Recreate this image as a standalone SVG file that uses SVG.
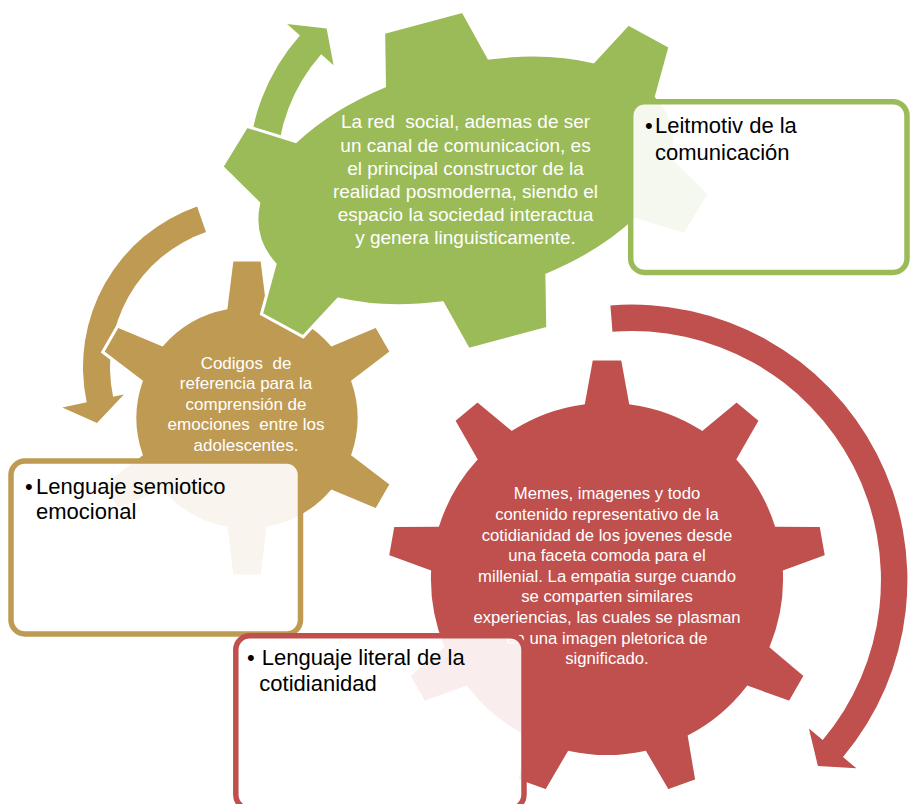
<svg xmlns="http://www.w3.org/2000/svg" width="910" height="804" viewBox="0 0 910 804">
  <style>
    .gear { stroke: #ffffff; stroke-width: 3; stroke-linejoin: miter; }
    .g-green { fill: #9BBB59; }
    .g-tan { fill: #BF9A52; }
    .g-red { fill: #C0504D; }
    .gtext { font-family: "Liberation Sans", Arial, sans-serif; fill: #ffffff; text-anchor: middle; }
    .box { fill: #ffffff; fill-opacity: 0.9; stroke-width: 5.5; }
    .btext { font-family: "Liberation Sans", Arial, sans-serif; font-size: 22px; fill: #000000; }
  </style>

  <g id="connectors">
    <path id="arrow-green" class="g-green" d="M248.4,171.2 A205,205 0 0 1 299.9,35.4 L287.1,24.1 L326.6,28.4 L333.6,65.2 L321.2,54.3 A176.5,176.5 0 0 0 276.9,171.2 Z"/>
    <path id="arrow-tan" class="g-tan" d="M197.1,206.5 A170,170 0 0 0 86.7,402.3 L62.3,407.5 L97,423 L123.9,394.4 L113.1,396.7 A143,143 0 0 1 206,232 Z"/>
    <path id="arrow-red" class="g-red" d="M610.4,305.4 A275.5,275.5 0 0 1 843,757.1 L856.4,768.3 L817.9,766 L808.9,728.5 L822.7,740.1 A249,249 0 0 0 612.5,331.8 Z"/>
  </g>

  <g id="gear-red">
    <path class="gear g-red" d="M583.5,403 L591.5,359 L622.5,359 L630.5,403 A177.6,177.6 0 0 1 702.1,429.1 L736.6,400.5 L760.3,420.4 L738.1,459.3 A177.6,177.6 0 0 1 776.2,525.3 L821,525.5 L826.4,556.1 L784.4,571.6 A177.6,177.6 0 0 1 771.2,646.7 L805.3,675.6 L789.8,702.4 L747.7,687.4 A177.6,177.6 0 0 1 689.3,736.4 L696.8,780.4 L667.7,791 L645.1,752.4 A177.6,177.6 0 0 1 568.9,752.4 L546.3,791 L517.2,780.4 L524.7,736.4 A177.6,177.6 0 0 1 466.3,687.4 L424.2,702.4 L408.7,675.6 L442.8,646.7 A177.6,177.6 0 0 1 429.6,571.6 L387.6,556.1 L393,525.5 L437.8,525.3 A177.6,177.6 0 0 1 475.9,459.3 L453.7,420.4 L477.5,400.5 L511.9,429.1 A177.6,177.6 0 0 1 583.5,403 Z"/>
    <text class="gtext" font-size="16.7"><tspan x="607" y="499.3">Memes, imagenes y todo</tspan><tspan x="607" y="519.9">contenido representativo de la</tspan><tspan x="607" y="540.5">cotidianidad de los jovenes desde</tspan><tspan x="607" y="561.1">una faceta comoda para el</tspan><tspan x="607" y="581.7">millenial. La empatia surge cuando</tspan><tspan x="607" y="602.3">se comparten similares</tspan><tspan x="607" y="622.9">experiencias, las cuales se plasman</tspan><tspan x="607" y="643.5">en una imagen pletorica de</tspan><tspan x="607" y="664.1">significado.</tspan></text>
  </g>

  <g id="gear-tan">
    <path class="gear g-tan" d="M226,308 L232,260 L262,260 L268,308 A112,112 0 0 1 331.8,344.8 L376.3,326 L391.3,352 L352.8,381.2 A112,112 0 0 1 352.8,454.8 L391.3,484 L376.3,510 L331.8,491.2 A112,112 0 0 1 268,528 L262,576 L232,576 L226,528 A112,112 0 0 1 162.2,491.2 L117.7,510 L102.7,484 L141.2,454.8 A112,112 0 0 1 141.2,381.2 L102.7,352 L117.7,326 L162.2,344.8 A112,112 0 0 1 226,308 Z"/>
    <text class="gtext" font-size="17"><tspan x="246" y="369">Codigos &#160;de</tspan><tspan x="246" y="389.4">referencia para la</tspan><tspan x="246" y="409.8">comprensión de</tspan><tspan x="246" y="430.2">emociones &#160;entre los</tspan><tspan x="246" y="450.6">adolescentes.</tspan></text>
  </g>

  <g id="gear-green">
    <path class="gear g-green" transform="translate(465.7,180.4) rotate(-15)" d="M-54,-112.2 L-41,-164 L41,-164 L54,-112.2 A213,116 0 0 1 154,-81.6 L197.5,-109 L231.9,-76.2 L205.8,-31.6 A213,116 0 0 1 205.8,31.6 L231.9,76.2 L197.5,109 L154,81.6 A213,116 0 0 1 54,112.2 L41,164 L-41,164 L-54,112.2 A213,116 0 0 1 -154,81.6 L-197.5,109 L-231.9,76.2 L-205.8,31.6 A213,116 0 0 1 -205.8,-31.6 L-231.9,-76.2 L-197.5,-109 L-154,-81.6 A213,116 0 0 1 -54,-112.2 Z"/>
    <text class="gtext" font-size="19"><tspan x="465.5" y="128.3">La red &#160;social, ademas de ser</tspan><tspan x="465.5" y="151.5">un canal de comunicacion, es</tspan><tspan x="465.5" y="174.7">el principal constructor de la</tspan><tspan x="465.5" y="197.9">realidad posmoderna, siendo el</tspan><tspan x="465.5" y="221.1">espacio la sociedad interactua</tspan><tspan x="465.5" y="244.3">y genera linguisticamente.</tspan></text>
  </g>

  <g id="box-green">
    <rect class="box" x="630.7" y="101.7" width="276.3" height="170.8" rx="14" stroke="#9BBB59"/>
    <text class="btext" x="645" y="133.3">•</text>
    <text class="btext" x="655" y="133.3">Leitmotiv de la</text>
    <text class="btext" x="655" y="160">comunicación</text>
  </g>

  <g id="box-tan">
    <rect class="box" x="11" y="461" width="289.5" height="173" rx="14" stroke="#BF9A52"/>
    <text class="btext" x="25" y="494.3">•</text>
    <text class="btext" x="36" y="494.3">Lenguaje semiotico</text>
    <text class="btext" x="36" y="519.3">emocional</text>
  </g>

  <g id="box-red">
    <rect class="box" x="235.8" y="635.8" width="288.2" height="173" rx="14" stroke="#C0504D"/>
    <text class="btext" x="247" y="665" font-size="17">•</text>
    <text class="btext" x="261.7" y="665">Lenguaje literal de la</text>
    <text class="btext" x="259.3" y="690.7">cotidianidad</text>
  </g>
</svg>
